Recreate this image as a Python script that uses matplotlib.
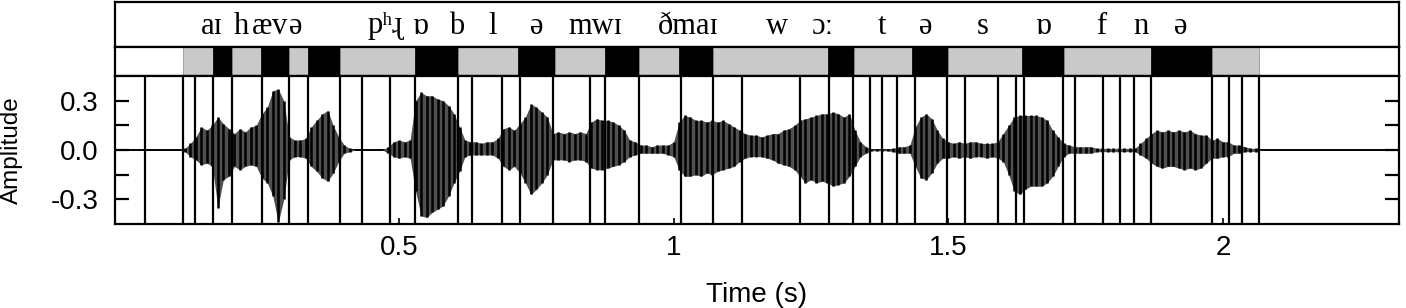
import matplotlib
matplotlib.use("Agg")
import matplotlib.pyplot as plt
import numpy as np


# ==========================================================
# Data
# ==========================================================

# phone labels of the top tier: (time in s, label)
label_times = [0.160, 0.213, 0.250, 0.283, 0.311, 0.474, 0.540, 0.604,
               0.671, 0.751, 0.857, 1.026, 1.188, 1.270, 1.379, 1.459,
               1.563, 1.674, 1.778, 1.851, 1.924]
label_texts = ["aɪ", "h", "æ", "v", "ə", "pʰɻ", "ɒ", "b",
               "l", "ə", "mwɪ", "ðmaɪ", "w", "ɔː", "t", "ə",
               "s", "ɒ", "f", "n", "ə"]

# interval tier: edges and fill of every interval
bar_edges = [0.107, 0.161, 0.196, 0.248, 0.300, 0.334, 0.392, 0.529,
             0.607, 0.716, 0.784, 0.875, 0.937, 1.010, 1.072, 1.281,
             1.328, 1.434, 1.499, 1.634, 1.710, 1.869, 1.980, 2.066]
bar_kinds = ["gray", "black"] * 11 + ["gray"]

# segment boundaries drawn over the waveform
boundaries = [0.037, 0.107, 0.128, 0.161, 0.196, 0.250, 0.300, 0.334,
              0.392, 0.433, 0.484, 0.529, 0.607, 0.632, 0.687, 0.720,
              0.780, 0.848, 0.875, 0.937, 1.013, 1.072, 1.124, 1.230,
              1.283, 1.327, 1.358, 1.379, 1.407, 1.439, 1.498, 1.531,
              1.591, 1.623, 1.638, 1.709, 1.731, 1.782, 1.813, 1.838,
              1.869, 1.980, 2.011, 2.035, 2.066]

# waveform envelope, one value every 10 ms from 0.10 s to 2.09 s
wave_t = np.round(np.arange(200) * 0.01 + 0.10, 2)
wave_top = [
    0.0, 0.01, 0.04, 0.08, 0.14, 0.12, 0.15, 0.20, 0.16, 0.13,      # 0.10
    0.10, 0.13, 0.11, 0.14, 0.15, 0.22, 0.26, 0.36, 0.37, 0.30,     # 0.20
    0.08, 0.06, 0.06, 0.07, 0.14, 0.18, 0.22, 0.24, 0.15, 0.08,     # 0.30
    0.03, 0.01, 0.0, 0.0, 0.0, 0.0, 0.0, 0.0, 0.02, 0.05,           # 0.40
    0.06, 0.05, 0.06, 0.30, 0.35, 0.33, 0.33, 0.31, 0.30, 0.27,     # 0.50
    0.22, 0.14, 0.06, 0.05, 0.05, 0.04, 0.05, 0.05, 0.07, 0.13,     # 0.60
    0.14, 0.12, 0.16, 0.20, 0.28, 0.26, 0.23, 0.20, 0.10, 0.11,     # 0.70
    0.10, 0.11, 0.10, 0.11, 0.10, 0.17, 0.19, 0.18, 0.18, 0.17,     # 0.80
    0.15, 0.12, 0.06, 0.05, 0.03, 0.03, 0.02, 0.03, 0.03, 0.03,     # 0.90
    0.05, 0.17, 0.21, 0.20, 0.18, 0.18, 0.17, 0.18, 0.17, 0.18,     # 1.00
    0.16, 0.14, 0.12, 0.10, 0.09, 0.09, 0.08, 0.09, 0.10, 0.10,     # 1.10
    0.12, 0.13, 0.15, 0.18, 0.19, 0.20, 0.21, 0.22, 0.22, 0.23,     # 1.20
    0.22, 0.20, 0.22, 0.12, 0.05, 0.02, 0.005, 0.005, 0.005, 0.005, # 1.30
    0.01, 0.02, 0.02, 0.03, 0.14, 0.20, 0.22, 0.19, 0.12, 0.07,     # 1.40
    0.05, 0.04, 0.05, 0.04, 0.05, 0.05, 0.04, 0.04, 0.04, 0.05,     # 1.50
    0.10, 0.15, 0.20, 0.21, 0.21, 0.21, 0.21, 0.20, 0.18, 0.12,     # 1.60
    0.08, 0.04, 0.03, 0.02, 0.02, 0.02, 0.02, 0.01, 0.01, 0.01,     # 1.70
    0.01, 0.01, 0.01, 0.01, 0.01, 0.04, 0.07, 0.10, 0.12, 0.11,     # 1.80
    0.12, 0.11, 0.12, 0.11, 0.12, 0.10, 0.09, 0.09, 0.06, 0.07,     # 1.90
    0.05, 0.05, 0.03, 0.03, 0.02, 0.01, 0.01, 0.0, 0.0, 0.0,        # 2.00
]
wave_bot = [
    0.0, -0.01, -0.04, -0.06, -0.09, -0.08, -0.10, -0.35, -0.18, -0.16,
    -0.10, -0.12, -0.10, -0.09, -0.10, -0.17, -0.20, -0.28, -0.44, -0.30,
    -0.06, -0.04, -0.04, -0.05, -0.10, -0.13, -0.17, -0.19, -0.14, -0.07,
    -0.02, -0.01, 0.0, 0.0, 0.0, 0.0, 0.0, 0.0, -0.02, -0.04,
    -0.05, -0.04, -0.05, -0.25, -0.40, -0.41, -0.38, -0.36, -0.34, -0.28,
    -0.20, -0.13, -0.04, -0.03, -0.03, -0.03, -0.03, -0.03, -0.05, -0.10,
    -0.12, -0.10, -0.14, -0.20, -0.27, -0.24, -0.20, -0.15, -0.06, -0.06,
    -0.06, -0.07, -0.06, -0.06, -0.07, -0.11, -0.12, -0.12, -0.11, -0.10,
    -0.09, -0.07, -0.04, -0.03, -0.02, -0.02, -0.02, -0.02, -0.02, -0.03,
    -0.04, -0.12, -0.16, -0.16, -0.15, -0.16, -0.14, -0.15, -0.13, -0.12,
    -0.11, -0.10, -0.07, -0.05, -0.04, -0.04, -0.04, -0.05, -0.06, -0.08,
    -0.09, -0.10, -0.12, -0.16, -0.20, -0.18, -0.20, -0.19, -0.20, -0.22,
    -0.21, -0.20, -0.16, -0.10, -0.04, -0.02, -0.005, -0.005, -0.005, -0.005,
    -0.01, -0.02, -0.02, -0.02, -0.10, -0.17, -0.18, -0.14, -0.08, -0.05,
    -0.05, -0.04, -0.05, -0.04, -0.05, -0.04, -0.04, -0.05, -0.04, -0.05,
    -0.07, -0.15, -0.25, -0.27, -0.24, -0.22, -0.22, -0.22, -0.20, -0.16,
    -0.10, -0.04, -0.02, -0.02, -0.02, -0.02, -0.02, -0.01, -0.01, -0.01,
    -0.01, -0.01, -0.01, -0.01, -0.01, -0.03, -0.05, -0.08, -0.10, -0.11,
    -0.10, -0.10, -0.11, -0.12, -0.11, -0.12, -0.11, -0.08, -0.05, -0.05,
    -0.04, -0.04, -0.02, -0.02, -0.01, -0.01, -0.01, 0.0, 0.0, 0.0,
]

x_ticks = [0.5, 1, 1.5, 2]
x_ticklabels = ["0.5", "1", "1.5", "2"]
y_ticks = [-0.3, -0.15, 0.0, 0.15, 0.3]
y_ticklabels = ["-0.3", "", "0.0", "", "0.3"]


# ==========================================================
# Figure
# ==========================================================

plt.rcParams["font.family"] = ["Liberation Sans", "DejaVu Sans"]

fig = plt.figure(figsize=(14.06, 3.08), dpi=100)

left = 115 / 1406
width = (1399 - 115) / 1406
xlim = (-0.0173, 2.3207)
spine_w = 1.6

ax_lab = fig.add_axes([left, (308 - 47) / 308, width, 45 / 308])
ax_bar = fig.add_axes([left, (308 - 76) / 308, width, 29 / 308])
ax = fig.add_axes([left, (308 - 224) / 308, width, 148 / 308])

for a in (ax_lab, ax_bar, ax):
    a.set_xlim(*xlim)
    for s in a.spines.values():
        s.set_linewidth(spine_w)
        s.set_color("black")

# phone labels
ax_lab.set_ylim(0, 1)
ax_lab.set_xticks([])
ax_lab.set_yticks([])
for t, s in zip(label_times, label_texts):
    ax_lab.text(
        t,
        0.30,
        s,
        ha="center",
        va="baseline",
        fontsize=22,
        family=["Liberation Serif", "DejaVu Serif"],
    )

# interval bars
ax_bar.set_ylim(0, 1)
ax_bar.set_xticks([])
ax_bar.set_yticks([])
fills = {"gray": "#c9c9c9", "black": "black"}
for i, kind in enumerate(bar_kinds):
    ax_bar.barh(
        0.5,
        bar_edges[i + 1] - bar_edges[i],
        left=bar_edges[i],
        height=1.0,
        color=fills[kind],
        edgecolor="#888888" if kind == "gray" else "black",
        linewidth=0.5,
    )

# waveform
ax.set_ylim(-0.45, 0.45)
ax.axhline(0, color="black", linewidth=1.4, zorder=2)
ax.fill_between(wave_t, wave_bot, wave_top, color="#505050", linewidth=0, zorder=2)
ax.vlines(wave_t, wave_bot, wave_top, color="black", linewidth=1.8, zorder=3)

ax.vlines(
    boundaries,
    0,
    1,
    transform=ax.get_xaxis_transform(),
    color="black",
    linewidth=1.6,
    zorder=4,
)

ax.set_yticks(y_ticks)
ax.set_yticklabels(y_ticklabels)
ax.tick_params(
    axis="y",
    direction="in",
    length=10,
    width=1.6,
    left=True,
    right=True,
    labelsize=20,
    pad=12,
)
ax.set_xticks(x_ticks)
ax.set_xticklabels(x_ticklabels)
ax.tick_params(axis="x", direction="in", length=4, width=1.2, labelsize=20, pad=8)

ax.set_ylabel("Amplitude", fontsize=17.5)
ax.yaxis.set_label_coords(-0.072, 0.5)
ax.set_xlabel("Time (s)", fontsize=20, labelpad=15)

fig.savefig("out.png", dpi=100)
plt.close()
